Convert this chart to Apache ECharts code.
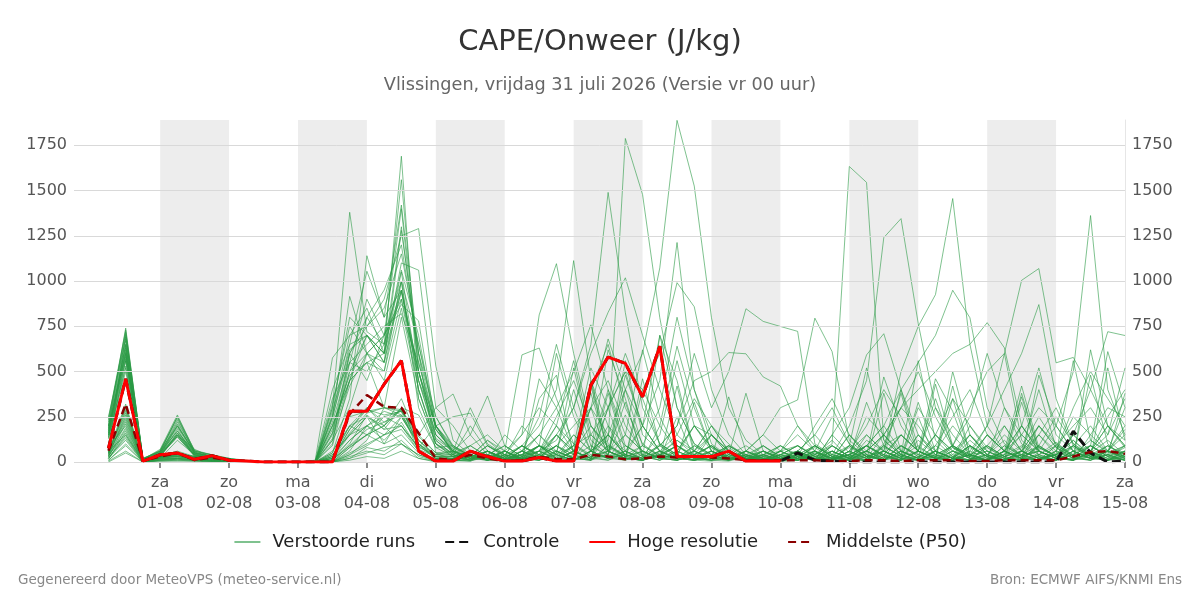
<!DOCTYPE html>
<html lang="nl">

<head>
    <meta charset="UTF-8">
    <title>CAPE/Onweer (J/kg)</title>
    <script src="https://cdn.jsdelivr.net/npm/echarts@6/dist/echarts.min.js"></script>
    <style>
        html, body { margin: 0; padding: 0; background: #fff; }
        #chart { width: 1200px; height: 600px; }
    </style>
</head>

<body>
    <div id="chart"></div>
</body>
<script>
    // uren na vr 31-07 00:00, stap 6 uur
    var times = [6, 12, 18, 24, 30, 36, 42, 48, 54, 60, 66, 72, 78, 84, 90, 96, 102, 108, 114, 120,
        126, 132, 138, 144, 150, 156, 162, 168, 174, 180, 186, 192, 198, 204, 210, 216, 222, 228, 234, 240,
        246, 252, 258, 264, 270, 276, 282, 288, 294, 300, 306, 312, 318, 324, 330, 336, 342, 348, 354, 360];

    var dayTicks = [24, 48, 72, 96, 120, 144, 168, 192, 216, 240, 264, 288, 312, 336, 360];
    var dayLabels = ['za\n01-08', 'zo\n02-08', 'ma\n03-08', 'di\n04-08', 'wo\n05-08', 'do\n06-08', 'vr\n07-08',
        'za\n08-08', 'zo\n09-08', 'ma\n10-08', 'di\n11-08', 'wo\n12-08', 'do\n13-08', 'vr\n14-08', 'za\n15-08'];
    var shadedDays = [[24, 48], [72, 96], [120, 144], [168, 192], [216, 240], [264, 288], [312, 336]];
    var yTicks = [0, 250, 500, 750, 1000, 1250, 1500, 1750];

    // hoge resolutie (tot 10-08 00 uur)
    var hres = [75, 460, 5, 40, 50, 15, 35, 10, 5, 0, 0, 0, 0, 0, 280, 280, 430, 560, 60, 5,
        5, 60, 30, 5, 5, 25, 5, 5, 425, 580, 545, 360, 640, 30, 30, 30, 60, 5, 5, 5];

    // controle run
    var control = [75, 460, 5, 40, 50, 15, 35, 10, 5, 0, 0, 0, 0, 0, 280, 280, 430, 560, 60, 5,
        5, 60, 30, 5, 5, 25, 5, 5, 425, 580, 545, 360, 640, 30, 30, 30, 60, 5, 5, 5,
        50, 10, 5, 0, 0, 0, 0, 0, 0, 0, 0, 0, 0, 0, 0, 0, 170, 50, 0, 5];

    // middelste (P50)
    var p50 = [62, 320, 5, 30, 50, 10, 25, 10, 3, 0, 0, 0, 0, 0, 265, 370, 305, 300, 160, 20,
        10, 40, 20, 5, 10, 30, 15, 15, 40, 30, 15, 20, 30, 25, 30, 25, 20, 10, 10, 10,
        10, 10, 5, 5, 10, 10, 5, 10, 10, 10, 5, 5, 10, 10, 10, 10, 30, 55, 60, 45];

    // verstoorde runs (50 leden)
    var members = [
        [150, 620, 10, 40, 180, 30, 20, 10, 5, 0, 0, 0, 0, 150, 450, 700, 600, 1690, 350, 100, 40, 10, 60, 5, 20, 350, 480, 40, 10, 90, 30, 60, 20, 420, 40, 10, 5, 30, 60, 20, 10, 40, 120, 20, 5, 380, 60, 10, 30, 90, 20, 10, 60, 420, 80, 30, 10, 50, 120, 40],
        [200, 740, 15, 60, 250, 50, 30, 20, 10, 0, 0, 0, 0, 300, 1380, 720, 650, 1560, 500, 200, 80, 30, 20, 10, 60, 150, 40, 520, 120, 40, 20, 460, 90, 30, 10, 60, 20, 10, 40, 10, 30, 80, 20, 150, 60, 10, 40, 560, 120, 30, 10, 80, 20, 40, 150, 300, 90, 20, 60, 180],
        [100, 560, 5, 20, 120, 40, 10, 5, 0, 0, 0, 0, 0, 50, 350, 1140, 800, 1420, 600, 50, 10, 5, 40, 20, 5, 30, 90, 20, 60, 620, 350, 30, 10, 40, 200, 80, 20, 10, 5, 30, 60, 20, 10, 90, 520, 120, 40, 10, 60, 20, 200, 80, 30, 10, 40, 110, 30, 480, 100, 20],
        [250, 680, 20, 50, 220, 60, 40, 15, 5, 0, 0, 0, 0, 100, 600, 750, 900, 1250, 1290, 530, 120, 40, 10, 60, 20, 10, 50, 400, 90, 30, 60, 20, 100, 40, 10, 30, 80, 20, 10, 60, 20, 10, 150, 50, 20, 80, 40, 10, 430, 90, 30, 60, 10, 20, 80, 40, 560, 120, 50, 90],
        [80, 200, 0, 30, 30, 20, 10, 5, 0, 0, 0, 0, 0, 250, 915, 600, 500, 1000, 300, 80, 30, 60, 10, 5, 20, 40, 10, 90, 520, 300, 20, 10, 50, 120, 40, 20, 60, 10, 30, 5, 10, 50, 20, 10, 120, 60, 380, 40, 10, 80, 30, 150, 60, 20, 10, 90, 40, 20, 520, 120],
        [180, 600, 10, 30, 150, 70, 25, 10, 5, 0, 0, 0, 5, 400, 650, 1054, 800, 950, 500, 150, 60, 20, 90, 40, 10, 460, 300, 60, 20, 40, 560, 150, 60, 20, 10, 40, 90, 30, 20, 10, 40, 10, 60, 20, 330, 90, 30, 10, 60, 20, 120, 40, 10, 380, 60, 20, 80, 30, 10, 50],
        [60, 150, 5, 10, 20, 15, 5, 0, 0, 0, 0, 0, 10, 575, 700, 850, 600, 1100, 1060, 300, 200, 60, 30, 10, 40, 90, 20, 10, 60, 150, 60, 20, 700, 450, 60, 20, 10, 40, 20, 10, 60, 150, 40, 10, 30, 20, 90, 40, 150, 60, 20, 10, 30, 80, 250, 100, 40, 20, 60, 30],
        [140, 520, 10, 40, 140, 30, 20, 10, 0, 0, 0, 0, 0, 120, 300, 600, 700, 870, 780, 200, 90, 30, 120, 40, 20, 60, 10, 30, 90, 40, 400, 90, 40, 10, 60, 20, 360, 60, 30, 10, 20, 60, 20, 40, 10, 90, 150, 60, 30, 10, 40, 200, 600, 120, 40, 10, 60, 20, 40, 380],
        [40, 260, 5, 25, 40, 20, 15, 10, 0, 0, 0, 0, 0, 0, 60, 200, 150, 250, 100, 20, 20, 60, 10, 40, 150, 813, 1096, 600, 200, 80, 30, 60, 20, 10, 40, 90, 20, 10, 5, 40, 10, 30, 60, 20, 90, 40, 10, 330, 60, 20, 10, 40, 120, 30, 10, 60, 20, 90, 40, 10],
        [60, 700, 15, 70, 260, 60, 40, 20, 5, 0, 0, 0, 0, 20, 180, 300, 200, 350, 120, 30, 10, 30, 120, 60, 592, 630, 350, 100, 40, 20, 60, 10, 30, 90, 20, 10, 40, 380, 60, 20, 10, 40, 90, 30, 10, 60, 20, 120, 40, 10, 80, 30, 10, 60, 20, 40, 150, 60, 10, 30],
        [20, 120, 0, 15, 20, 10, 5, 0, 0, 0, 0, 0, 0, 10, 90, 150, 250, 200, 80, 40, 40, 10, 60, 20, 90, 200, 400, 1113, 450, 100, 30, 10, 60, 20, 10, 30, 60, 20, 10, 5, 40, 20, 10, 60, 150, 60, 20, 10, 40, 90, 30, 10, 60, 20, 200, 80, 30, 10, 40, 60],
        [160, 650, 10, 30, 160, 40, 20, 10, 5, 0, 0, 0, 0, 220, 550, 500, 650, 950, 450, 200, 60, 20, 40, 10, 20, 60, 120, 300, 650, 1490, 825, 300, 100, 40, 20, 60, 10, 30, 90, 20, 10, 50, 20, 80, 30, 10, 60, 20, 150, 40, 10, 90, 30, 60, 20, 10, 40, 120, 60, 20],
        [50, 310, 5, 35, 45, 25, 15, 5, 0, 0, 0, 0, 0, 0, 40, 120, 300, 280, 60, 10, 20, 40, 10, 60, 20, 90, 40, 10, 60, 120, 1788, 1478, 797, 300, 100, 40, 10, 60, 20, 10, 30, 10, 60, 20, 90, 40, 150, 60, 20, 10, 40, 20, 60, 10, 90, 30, 120, 40, 20, 60],
        [30, 180, 5, 20, 30, 15, 10, 5, 0, 0, 0, 0, 0, 30, 200, 250, 100, 150, 50, 20, 10, 30, 60, 20, 10, 40, 90, 200, 300, 150, 400, 600, 1073, 1888, 1525, 797, 300, 120, 40, 10, 20, 60, 10, 40, 20, 90, 30, 10, 60, 20, 150, 40, 10, 30, 60, 20, 90, 40, 10, 30],
        [230, 720, 20, 60, 200, 50, 30, 15, 5, 0, 0, 0, 0, 300, 800, 700, 550, 1280, 600, 250, 80, 40, 20, 60, 10, 30, 150, 60, 20, 300, 500, 200, 450, 1213, 400, 100, 30, 60, 20, 10, 40, 10, 90, 30, 60, 20, 400, 80, 30, 10, 60, 20, 40, 360, 60, 20, 10, 90, 30, 80],
        [130, 500, 10, 45, 150, 35, 20, 10, 5, 0, 0, 0, 0, 90, 450, 550, 300, 800, 350, 100, 30, 10, 60, 20, 40, 90, 20, 10, 60, 150, 40, 20, 90, 200, 600, 300, 500, 847, 777, 749, 722, 100, 40, 20, 60, 10, 30, 90, 20, 60, 150, 40, 10, 60, 20, 40, 120, 30, 10, 60],
        [10, 90, 0, 10, 15, 10, 5, 0, 0, 0, 0, 0, 0, 0, 20, 80, 60, 120, 30, 5, 10, 40, 20, 60, 10, 30, 90, 40, 380, 60, 20, 10, 40, 120, 60, 20, 10, 30, 60, 20, 10, 40, 100, 1633, 1545, 120, 40, 10, 60, 20, 90, 30, 10, 60, 400, 80, 20, 10, 40, 90],
        [190, 630, 15, 55, 170, 45, 25, 10, 5, 0, 0, 0, 0, 250, 600, 450, 700, 900, 500, 150, 50, 90, 30, 10, 60, 20, 40, 150, 60, 20, 90, 40, 10, 60, 200, 80, 30, 10, 40, 60, 20, 90, 40, 200, 450, 1240, 1345, 765, 300, 90, 40, 10, 60, 20, 150, 40, 10, 60, 20, 90],
        [45, 230, 5, 30, 40, 20, 15, 5, 0, 0, 0, 0, 0, 10, 100, 260, 180, 300, 90, 20, 20, 60, 10, 30, 90, 40, 10, 60, 200, 90, 30, 10, 40, 20, 60, 150, 40, 10, 30, 20, 60, 10, 40, 90, 30, 60, 500, 750, 925, 1456, 650, 200, 60, 20, 10, 40, 90, 30, 10, 60],
        [35, 160, 5, 25, 35, 15, 10, 5, 0, 0, 0, 0, 0, 40, 150, 200, 120, 220, 70, 30, 30, 10, 60, 20, 40, 150, 60, 20, 10, 90, 40, 200, 60, 20, 10, 40, 90, 30, 20, 10, 40, 90, 30, 10, 60, 20, 150, 60, 20, 90, 300, 500, 600, 1004, 1069, 548, 578, 400, 200, 90],
        [170, 580, 10, 40, 200, 50, 30, 10, 5, 0, 0, 0, 0, 200, 450, 800, 650, 1060, 700, 180, 60, 20, 90, 40, 10, 30, 60, 20, 420, 60, 20, 10, 40, 90, 30, 10, 60, 20, 40, 10, 30, 10, 60, 20, 90, 40, 10, 60, 350, 80, 30, 10, 40, 150, 60, 200, 500, 1362, 400, 150],
        [20, 140, 0, 15, 20, 10, 5, 0, 0, 0, 0, 0, 0, 0, 80, 150, 200, 100, 40, 10, 10, 30, 60, 20, 90, 40, 10, 60, 20, 150, 40, 20, 60, 10, 30, 90, 20, 60, 150, 300, 343, 795, 610, 120, 40, 10, 60, 20, 90, 30, 10, 150, 60, 20, 40, 90, 30, 10, 60, 20],
        [140, 560, 10, 35, 140, 40, 20, 10, 0, 0, 0, 0, 0, 160, 500, 600, 450, 850, 400, 120, 40, 10, 60, 20, 90, 30, 10, 60, 440, 60, 20, 10, 40, 90, 30, 60, 20, 10, 40, 20, 60, 20, 10, 40, 90, 200, 400, 550, 700, 949, 797, 300, 100, 40, 10, 60, 20, 90, 30, 10],
        [30, 210, 5, 20, 35, 25, 10, 5, 0, 0, 0, 0, 0, 20, 120, 200, 280, 250, 100, 30, 20, 60, 30, 10, 40, 90, 20, 150, 60, 20, 10, 40, 90, 200, 450, 500, 605, 598, 470, 420, 200, 60, 20, 40, 10, 90, 30, 60, 20, 350, 40, 10, 60, 20, 90, 30, 10, 60, 200, 80],
        [55, 290, 5, 30, 45, 30, 15, 5, 0, 0, 0, 0, 0, 30, 200, 300, 220, 290, 150, 50, 40, 20, 60, 10, 30, 90, 40, 10, 60, 20, 150, 60, 20, 10, 40, 90, 30, 10, 60, 20, 40, 10, 90, 30, 60, 150, 300, 400, 500, 600, 650, 770, 631, 200, 60, 20, 10, 40, 90, 30],
        [200, 690, 15, 60, 230, 55, 30, 15, 5, 0, 0, 0, 0, 350, 550, 900, 700, 1000, 650, 200, 70, 20, 40, 10, 60, 20, 90, 40, 10, 380, 60, 20, 30, 90, 40, 10, 60, 20, 10, 40, 20, 60, 10, 40, 90, 30, 10, 60, 20, 420, 40, 10, 90, 30, 60, 20, 150, 400, 720, 699],
        [15, 170, 0, 15, 25, 15, 10, 0, 0, 0, 0, 0, 0, 0, 50, 100, 150, 180, 60, 10, 10, 40, 20, 60, 10, 30, 90, 20, 10, 60, 330, 40, 20, 250, 10, 30, 90, 40, 10, 20, 60, 20, 90, 30, 10, 60, 20, 150, 40, 10, 60, 200, 400, 600, 870, 350, 100, 40, 10, 60],
        [160, 610, 10, 45, 160, 45, 25, 10, 5, 0, 0, 0, 0, 180, 500, 700, 600, 940, 450, 130, 60, 30, 10, 40, 20, 90, 60, 20, 150, 300, 500, 400, 600, 991, 858, 400, 150, 40, 10, 60, 20, 90, 30, 10, 60, 150, 40, 10, 60, 20, 90, 30, 10, 200, 60, 20, 40, 90, 30, 10],
        [60, 320, 5, 35, 60, 30, 20, 5, 0, 0, 0, 0, 0, 50, 250, 280, 300, 260, 120, 40, 30, 60, 10, 20, 90, 40, 150, 300, 600, 827, 1018, 700, 400, 150, 60, 20, 10, 40, 90, 30, 10, 60, 20, 150, 40, 10, 90, 30, 60, 20, 10, 40, 150, 60, 20, 10, 90, 30, 60, 150],
        [40, 250, 5, 25, 45, 20, 10, 5, 0, 0, 0, 0, 0, 20, 150, 250, 180, 200, 80, 200, 250, 270, 90, 30, 60, 150, 300, 500, 758, 400, 150, 60, 20, 10, 40, 90, 20, 10, 60, 30, 10, 40, 20, 90, 30, 60, 10, 150, 40, 20, 90, 30, 10, 60, 20, 40, 150, 60, 20, 10],
        [150, 590, 10, 40, 150, 40, 20, 10, 5, 0, 0, 0, 0, 200, 450, 550, 500, 900, 400, 100, 50, 20, 60, 10, 30, 90, 40, 10, 60, 400, 90, 30, 60, 20, 330, 60, 20, 10, 40, 90, 30, 10, 150, 300, 592, 709, 400, 150, 60, 20, 10, 90, 30, 60, 200, 80, 20, 10, 60, 30],
        [50, 270, 5, 30, 40, 25, 15, 5, 0, 0, 0, 0, 0, 10, 120, 200, 250, 280, 150, 300, 376, 150, 365, 90, 30, 60, 20, 10, 60, 150, 40, 20, 90, 30, 60, 200, 60, 20, 10, 40, 90, 30, 10, 60, 20, 150, 40, 10, 60, 20, 90, 30, 200, 60, 20, 10, 40, 90, 30, 60],
        [25, 130, 0, 10, 15, 10, 5, 0, 0, 0, 0, 0, 0, 60, 200, 150, 100, 250, 90, 20, 20, 90, 150, 60, 20, 10, 40, 90, 300, 450, 200, 60, 20, 10, 40, 150, 60, 20, 10, 40, 90, 30, 10, 60, 200, 400, 250, 60, 20, 10, 40, 90, 30, 60, 150, 60, 300, 500, 350, 200],
        [220, 710, 15, 65, 240, 60, 35, 15, 5, 0, 0, 0, 0, 260, 700, 750, 850, 1150, 650, 250, 90, 30, 10, 60, 20, 40, 200, 560, 150, 60, 20, 90, 300, 800, 400, 150, 60, 20, 10, 40, 20, 60, 10, 90, 30, 10, 60, 20, 150, 350, 200, 60, 20, 40, 10, 90, 200, 300, 150, 520],
        [5, 60, 0, 5, 10, 5, 0, 0, 0, 0, 0, 0, 0, 0, 30, 60, 40, 100, 20, 5, 10, 5, 30, 10, 60, 20, 10, 40, 300, 30, 10, 60, 20, 40, 10, 30, 60, 20, 10, 5, 30, 10, 40, 20, 10, 60, 20, 250, 10, 30, 90, 20, 10, 40, 60, 20, 10, 30, 90, 40],
        [170, 650, 10, 50, 190, 45, 25, 10, 5, 0, 0, 0, 0, 120, 550, 650, 750, 820, 550, 200, 40, 200, 60, 20, 10, 90, 600, 250, 60, 20, 40, 10, 200, 640, 300, 60, 20, 10, 40, 90, 30, 200, 350, 150, 40, 10, 60, 20, 90, 250, 400, 150, 60, 20, 10, 40, 90, 200, 60, 300],
        [45, 240, 5, 30, 40, 20, 10, 5, 0, 0, 0, 0, 0, 0, 80, 150, 200, 290, 100, 40, 60, 20, 10, 150, 60, 30, 10, 60, 20, 40, 480, 200, 60, 20, 90, 40, 10, 60, 150, 60, 20, 90, 30, 10, 60, 150, 300, 200, 60, 20, 40, 10, 300, 150, 60, 20, 10, 620, 200, 90],
        [30, 190, 5, 20, 30, 15, 10, 0, 0, 0, 0, 0, 0, 40, 150, 250, 200, 300, 260, 80, 90, 40, 10, 30, 200, 90, 20, 60, 10, 300, 600, 350, 100, 40, 10, 60, 20, 40, 10, 60, 90, 40, 10, 60, 20, 100, 300, 500, 250, 80, 20, 10, 60, 150, 300, 200, 60, 20, 40, 10],
        [190, 600, 10, 50, 170, 50, 30, 10, 5, 0, 0, 0, 0, 280, 620, 700, 550, 1000, 400, 100, 30, 60, 20, 10, 40, 60, 200, 100, 30, 60, 150, 620, 250, 60, 200, 150, 40, 10, 60, 20, 40, 60, 250, 100, 30, 10, 90, 40, 20, 500, 150, 40, 10, 60, 200, 100, 30, 60, 250, 400],
        [50, 300, 5, 25, 50, 30, 15, 5, 0, 0, 0, 0, 0, 20, 180, 290, 260, 280, 140, 50, 60, 20, 90, 30, 10, 60, 150, 40, 400, 650, 300, 100, 30, 60, 20, 10, 40, 90, 30, 10, 60, 20, 10, 40, 250, 150, 60, 20, 10, 90, 40, 10, 60, 200, 80, 30, 10, 60, 150, 350],
        [240, 730, 20, 60, 250, 65, 40, 20, 5, 0, 0, 0, 0, 320, 750, 600, 700, 1400, 500, 200, 50, 10, 40, 90, 30, 10, 60, 20, 450, 200, 20, 10, 40, 90, 30, 60, 20, 10, 90, 30, 10, 60, 20, 40, 90, 30, 10, 60, 460, 280, 20, 10, 40, 90, 30, 10, 60, 20, 40, 10],
        [20, 150, 0, 20, 20, 15, 5, 0, 0, 0, 0, 0, 0, 0, 40, 90, 150, 200, 60, 10, 10, 40, 20, 60, 150, 300, 200, 60, 20, 10, 40, 90, 30, 10, 60, 200, 100, 30, 10, 40, 90, 30, 10, 60, 20, 40, 150, 60, 300, 150, 40, 10, 60, 20, 90, 30, 10, 60, 200, 120],
        [130, 530, 10, 35, 140, 35, 20, 10, 0, 0, 0, 0, 0, 200, 480, 550, 600, 1050, 450, 150, 60, 300, 100, 40, 10, 60, 20, 90, 30, 10, 60, 200, 700, 300, 100, 40, 10, 60, 20, 90, 40, 10, 60, 20, 90, 30, 10, 60, 20, 40, 150, 60, 20, 10, 480, 200, 60, 20, 10, 40],
        [10, 100, 0, 10, 10, 10, 5, 0, 0, 0, 0, 0, 0, 0, 20, 50, 80, 100, 40, 5, 5, 20, 10, 40, 20, 10, 60, 20, 10, 40, 260, 30, 10, 60, 20, 10, 40, 20, 60, 10, 20, 10, 60, 20, 40, 10, 90, 30, 10, 60, 20, 40, 10, 330, 30, 10, 60, 20, 10, 40],
        [180, 640, 10, 50, 200, 55, 30, 15, 5, 0, 0, 0, 0, 160, 600, 800, 950, 1200, 600, 180, 60, 150, 40, 10, 60, 250, 650, 300, 60, 20, 40, 10, 60, 150, 350, 200, 60, 20, 10, 40, 60, 150, 300, 100, 30, 60, 20, 10, 40, 90, 250, 600, 300, 100, 40, 10, 60, 90, 610, 300],
        [55, 280, 5, 30, 45, 30, 15, 5, 0, 0, 0, 0, 0, 30, 160, 270, 300, 290, 120, 30, 30, 10, 60, 20, 40, 10, 30, 90, 150, 60, 20, 400, 200, 60, 20, 10, 90, 40, 10, 60, 200, 90, 30, 10, 60, 20, 40, 300, 150, 60, 20, 10, 90, 40, 10, 60, 250, 150, 60, 200],
        [150, 570, 10, 40, 150, 40, 20, 10, 5, 0, 0, 0, 0, 130, 420, 600, 550, 950, 500, 120, 40, 90, 30, 60, 20, 10, 150, 60, 20, 200, 90, 30, 150, 560, 200, 60, 20, 40, 10, 60, 150, 60, 20, 10, 40, 470, 200, 60, 20, 10, 40, 90, 200, 60, 20, 40, 10, 150, 300, 250],
        [35, 220, 5, 25, 30, 20, 10, 5, 0, 0, 0, 0, 0, 10, 90, 180, 220, 260, 100, 20, 20, 10, 40, 90, 30, 60, 250, 450, 200, 60, 20, 10, 40, 20, 90, 30, 10, 60, 20, 10, 40, 90, 30, 10, 150, 60, 20, 10, 60, 200, 90, 30, 10, 40, 90, 250, 100, 30, 60, 20],
        [200, 670, 15, 55, 210, 50, 30, 15, 5, 0, 0, 0, 0, 240, 650, 700, 600, 1300, 550, 180, 60, 30, 10, 40, 90, 30, 10, 60, 300, 680, 400, 200, 60, 20, 10, 150, 60, 20, 40, 10, 60, 20, 10, 40, 90, 200, 60, 20, 10, 60, 30, 150, 60, 200, 520, 150, 60, 20, 90, 40],
        [0, 50, 0, 5, 5, 5, 0, 0, 0, 0, 0, 0, 0, 0, 10, 30, 20, 60, 20, 0, 5, 10, 30, 10, 5, 20, 40, 10, 30, 60, 20, 10, 40, 20, 10, 5, 30, 10, 20, 5, 10, 30, 10, 20, 5, 40, 10, 30, 20, 10, 40, 60, 20, 10, 30, 10, 20, 40, 10, 20]
    ];

    var bad = [];
    members.forEach(function (row, i) { if (row.length !== times.length) bad.push((i + 1) + ':' + row.length); });
    if (bad.length) throw new Error('rij lengte fout ' + bad.join(', '));

    function toPoints(values) {
        return values.map(function (v, k) { return [times[k], v]; });
    }

    var chart = echarts.init(document.getElementById('chart'));

    var series = [{
        // grijze dagbanden + rasterlijnen
        name: 'achtergrond',
        type: 'line',
        data: [],
        silent: true,
        z: 1,
        markArea: {
            silent: true,
            itemStyle: { color: 'rgba(0, 0, 0, 0.07)' },
            data: shadedDays.map(function (d) { return [{ xAxis: d[0] }, { xAxis: d[1] }]; })
        },
        markLine: {
            silent: true,
            symbol: 'none',
            label: { show: false },
            lineStyle: { color: '#d9d9d9', width: 1, type: 'solid' },
            data: yTicks.map(function (v) { return { yAxis: v }; })
        }
    }];

    members.forEach(function (row) {
        series.push({
            name: 'Verstoorde runs',
            type: 'line',
            data: toPoints(row),
            symbol: 'none',
            silent: true,
            z: 2,
            lineStyle: { color: '#2a9a44', width: 1, opacity: 0.6 },
            itemStyle: { color: '#2a9a44' }
        });
    });

    series.push({
        name: 'Controle',
        type: 'line',
        data: toPoints(control),
        symbol: 'none',
        z: 3,
        lineStyle: { color: '#111', width: 3, type: [9, 5] },
        itemStyle: { color: '#111' }
    });
    series.push({
        name: 'Middelste (P50)',
        type: 'line',
        data: toPoints(p50),
        symbol: 'none',
        z: 4,
        lineStyle: { color: '#8b0000', width: 2.5, type: [8, 5] },
        itemStyle: { color: '#8b0000' }
    });
    series.push({
        name: 'Hoge resolutie',
        type: 'line',
        data: toPoints(hres),
        symbol: 'none',
        z: 5,
        lineStyle: { color: '#ff0000', width: 3 },
        itemStyle: { color: '#ff0000' }
    });

    var axisY = {
        type: 'value',
        min: 0,
        max: 1890,
        interval: 250,
        splitLine: { show: false },
        axisTick: { show: false },
        axisLabel: {
            customValues: yTicks,
            color: '#555',
            fontSize: 16,
            margin: 7,
            formatter: function (v) { return String(v); }
        }
    };

    var option = {
        animation: false,
        textStyle: { fontFamily: 'DejaVu Sans' },
        title: [{
            text: 'CAPE/Onweer (J/kg)',
            left: 'center',
            top: 28,
            padding: 0,
            textStyle: { fontSize: 29, fontWeight: 'normal', color: '#333', fontFamily: 'DejaVu Sans' }
        }, {
            text: 'Vlissingen, vrijdag 31 juli 2026 (Versie vr 00 uur)',
            left: 'center',
            top: 76,
            padding: 0,
            textStyle: { fontSize: 17.7, fontWeight: 'normal', color: '#666', fontFamily: 'DejaVu Sans' }
        }],
        grid: { left: 74, right: 75, top: 120, bottom: 138 },
        legend: {
            data: ['Verstoorde runs', 'Controle', 'Hoge resolutie', 'Middelste (P50)'],
            left: 'center',
            top: 533,
            padding: 0,
            itemWidth: 26,
            itemHeight: 14,
            itemGap: 29,
            itemStyle: { opacity: 0 },
            textStyle: { fontSize: 18, color: '#222', fontFamily: 'DejaVu Sans', padding: [0, 0, 0, 7] }
        },
        xAxis: {
            type: 'value',
            min: -6,
            max: 360,
            splitLine: { show: false },
            axisLine: { show: false },
            axisTick: {
                customValues: dayTicks,
                length: 6,
                lineStyle: { color: '#666', width: 1.5 }
            },
            axisLabel: {
                customValues: dayTicks,
                color: '#555',
                fontSize: 16,
                lineHeight: 21,
                margin: 10,
                formatter: function (v) {
                    var i = dayTicks.indexOf(v);
                    return i >= 0 ? dayLabels[i] : '';
                }
            }
        },
        yAxis: [
            echarts.util.merge({ position: 'left', axisLine: { show: false } }, axisY, true),
            echarts.util.merge({ position: 'right', axisLine: { show: true, lineStyle: { color: '#e6e6e6' } } }, axisY, true)
        ],
        graphic: [{
            type: 'text',
            left: 18,
            top: 573,
            style: { text: 'Gegenereerd door MeteoVPS (meteo-service.nl)', fill: '#888', fontSize: 13.5, fontFamily: 'DejaVu Sans' }
        }, {
            type: 'text',
            right: 18,
            top: 573,
            style: { text: 'Bron: ECMWF AIFS/KNMI Ens', fill: '#888', fontSize: 13.5, fontFamily: 'DejaVu Sans' }
        }],
        series: series
    };

    chart.setOption(option);
</script>

</html>
